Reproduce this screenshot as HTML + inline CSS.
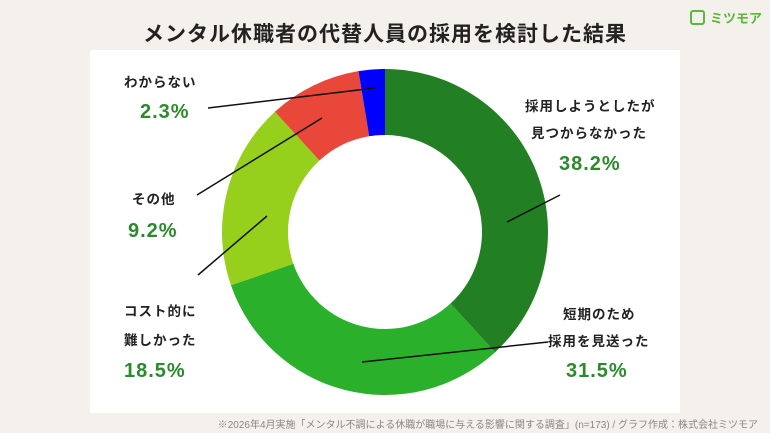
<!DOCTYPE html>
<html><head><meta charset="utf-8"><style>
body{margin:0;width:770px;height:433px;background:#f4f1ec;font-family:"Liberation Sans","Noto Sans CJK JP",sans-serif;overflow:hidden;position:relative}
.panel{position:absolute;left:90px;top:50px;width:590px;height:363px;background:#fff}
.t{position:absolute;white-space:nowrap}
.title{left:0;width:770px;top:18px;text-align:center;font-size:21px;font-weight:bold;color:#222;letter-spacing:1px}
.lb{font-size:13.5px;font-weight:bold;color:#222;letter-spacing:1px}
.pc{font-size:20px;font-weight:bold;color:#2b8a2b;letter-spacing:1px}
</style></head><body>
<div class="panel"></div>
<div class="t title">メンタル休職者の代替人員の採用を検討した結果</div>
<div class="t" style="left:690px;top:8px;font-size:13px;color:#5bb83a;font-weight:bold"><span style="display:inline-block;width:11px;height:11px;border:2px solid #5bb83a;border-radius:3px;vertical-align:-2px;margin-right:5px"></span>ミツモア</div>
<svg width="770" height="433" style="position:absolute;left:0;top:0" id="s"></svg>
<div class="t lb" style="left:124px;top:71px">わからない</div>
<div class="t pc" style="left:140px;top:101px">2.3%</div>
<div class="t lb" style="left:132px;top:188px">その他</div>
<div class="t pc" style="left:128px;top:220px">9.2%</div>
<div class="t lb" style="left:124px;top:300px">コスト的に</div>
<div class="t lb" style="left:124px;top:329px">難しかった</div>
<div class="t pc" style="left:124px;top:360px">18.5%</div>
<div class="t lb" style="left:525px;top:95px">採用しようとしたが</div>
<div class="t lb" style="left:531px;top:122px">見つからなかった</div>
<div class="t pc" style="left:559px;top:153px">38.2%</div>
<div class="t lb" style="left:563px;top:303px">短期のため</div>
<div class="t lb" style="left:548px;top:330px">採用を見送った</div>
<div class="t pc" style="left:566px;top:360px">31.5%</div>
<div class="t" style="right:12px;top:416px;font-size:10px;color:#888">※2026年4月実施「メンタル不調による休職が職場に与える影響に関する調査」(n=173) / グラフ作成：株式会社ミツモア</div>
<script>
var s=document.getElementById('s'),cx=385,cy=232,R=163,r=97;
var d=[[38.2,'#237f23'],[31.5,'#2bb02b'],[18.5,'#96cf1c'],[9.2,'#e8473a'],[2.6,'#0000ff']];
function p(a,rr){a=(a-90)*Math.PI/180;return (cx+rr*Math.cos(a)).toFixed(2)+' '+(cy+rr*Math.sin(a)).toFixed(2)}
var a0=0,h='';
d.forEach(function(x){var a1=a0+x[0]*3.6,l=(a1-a0)>180?1:0;
h+='<path fill="'+x[1]+'" d="M'+p(a0,R)+'A'+R+' '+R+' 0 '+l+' 1 '+p(a1,R)+'L'+p(a1,r)+'A'+r+' '+r+' 0 '+l+' 0 '+p(a0,r)+'Z"/>';a0=a1;});
[[507,222,560,195],[362,362,548,342],[267,216,198,275],[322,118,197,195],[375,88,208,108]].forEach(function(q){h+='<line x1="'+q[0]+'" y1="'+q[1]+'" x2="'+q[2]+'" y2="'+q[3]+'" stroke="#111" stroke-width="1.5"/>'});
s.innerHTML=h;
</script>
</body></html>
